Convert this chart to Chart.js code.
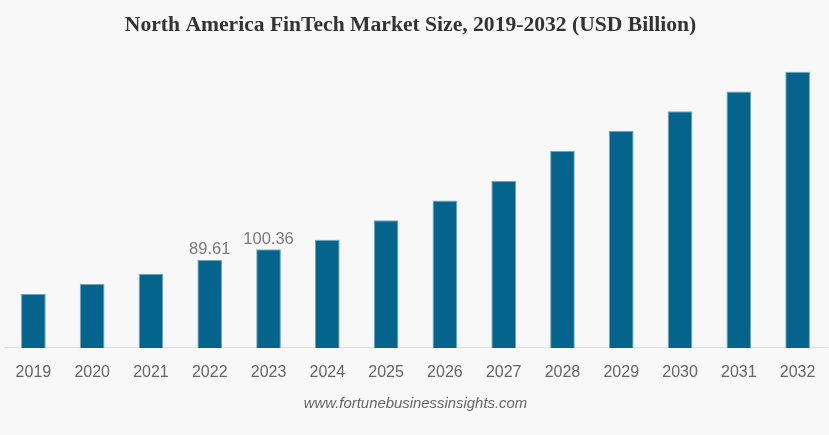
<!DOCTYPE html>
<html>
<head>
<meta charset="utf-8">
<title>North America FinTech Market Size</title>
<script src="https://cdn.jsdelivr.net/npm/chart.js@4.4.1/dist/chart.umd.min.js"></script>
<style>
  html, body { margin: 0; padding: 0; background: #f8f8f8; overflow: hidden; }
  #wrap { width: 829px; height: 435px; }
</style>
</head>
<body>
<div id="wrap"><canvas id="c" width="829" height="435"></canvas></div>
<script>
const YEARS = ['2019', '2020', '2021', '2022', '2023', '2024', '2025', '2026', '2027', '2028', '2029', '2030', '2031', '2032'];
const MARKET_SIZE = [55, 65, 75.4, 89.61, 100.36, 110, 130, 150, 170, 200.6, 221, 241, 261, 281];
const LABELLED_YEARS = ['2022', '2023'];
const TITLE = 'North America FinTech Market Size, 2019-2032 (USD Billion)';
const SOURCE = 'www.fortunebusinessinsights.com';

// title sits left of the canvas centre, and only two bars carry a value label
const overlayText = {
  id: 'overlayText',
  afterDatasetsDraw(chart) {
    const ctx = chart.ctx;
    const meta = chart.getDatasetMeta(0);
    ctx.save();
    ctx.textAlign = 'center';

    ctx.font = 'bold 21.6px "Liberation Serif"';
    ctx.fillStyle = '#333333';
    ctx.textBaseline = 'middle';
    ctx.fillText(TITLE, 410.5, 25);

    ctx.font = '16.5px "Liberation Sans"';
    ctx.fillStyle = '#7a7a7a';
    ctx.textBaseline = 'bottom';
    YEARS.forEach((year, i) => {
      if (!LABELLED_YEARS.includes(year)) return;
      ctx.fillText(MARKET_SIZE[i].toFixed(2), meta.data[i].x, meta.data[i].y - 2);
    });
    ctx.restore();
  }
};

new Chart(document.getElementById('c'), {
  type: 'bar',
  data: {
    labels: YEARS,
    datasets: [{
      data: MARKET_SIZE,
      backgroundColor: '#04648c',
      borderColor: '#6ea6bd',
      borderWidth: { top: 1, left: 1, right: 1, bottom: 0 },
      barPercentage: 0.42,
      categoryPercentage: 1
    }]
  },
  options: {
    responsive: false,
    animation: false,
    layout: { padding: { left: 4, right: 2, top: 63, bottom: 0 } },
    plugins: {
      legend: { display: false },
      tooltip: { enabled: false },
      title: { display: false },
      subtitle: {
        display: true,
        position: 'bottom',
        text: SOURCE,
        color: '#666666',
        font: { family: '"Liberation Sans"', size: 14.9, style: 'italic' },
        padding: { top: 6, bottom: 22 }
      }
    },
    scales: {
      x: {
        grid: { display: false },
        border: { color: '#dddddd', width: 1 },
        ticks: {
          color: '#666666',
          font: { family: '"Liberation Sans"', size: 16 },
          maxRotation: 0,
          autoSkip: false,
          padding: 7
        }
      },
      y: { display: false, min: 0, max: 290 }
    }
  },
  plugins: [overlayText]
});
</script>
</body>
</html>
